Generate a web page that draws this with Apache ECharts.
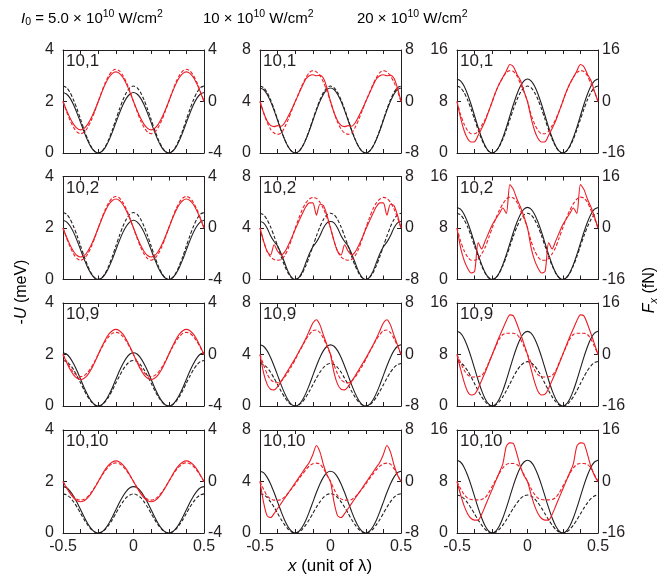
<!DOCTYPE html>
<html><head><meta charset="utf-8">
<script src="https://cdn.jsdelivr.net/npm/echarts@6/dist/echarts.min.js"></script>
<style>html,body{margin:0;padding:0;background:#fff}#c{width:671px;height:578px}</style>
</head><body><div id="c"></div>
<script>
const X = [-0.5,-0.475,-0.45,-0.425,-0.4,-0.375,-0.35,-0.325,-0.3,-0.275,-0.25,-0.225,-0.2,-0.175,-0.15,-0.125,-0.1,-0.075,-0.05,-0.025,0,0.025,0.05,0.075,0.1,0.125,0.15,0.175,0.2,0.225,0.25,0.275,0.3,0.325,0.35,0.375,0.4,0.425,0.45,0.475,0.5];
const xTickLabels = ['-0.5','0','0.5'];
const leftMax = [4, 8, 16];
const panelLabels = ['10,1','10,2','10,9','10,10'];
const titles = ['5.0', '10', '20'];

// column 1 : I0 = 5.0e10
const U5_1s = [2.35,2.29,2.13,1.87,1.54,1.18,0.81,0.48,0.22,0.06,0,0.06,0.22,0.48,0.81,1.18,1.54,1.87,2.13,2.29,2.35,2.29,2.13,1.87,1.54,1.18,0.81,0.48,0.22,0.06,0,0.06,0.22,0.48,0.81,1.18,1.54,1.87,2.13,2.29,2.35];
const U5_1d = [2.6,2.54,2.35,2.06,1.7,1.3,0.9,0.54,0.25,0.06,0,0.06,0.25,0.54,0.9,1.3,1.7,2.06,2.35,2.54,2.6,2.54,2.35,2.06,1.7,1.3,0.9,0.54,0.25,0.06,0,0.06,0.25,0.54,0.9,1.3,1.7,2.06,2.35,2.54,2.6];
const F5_1s = [0,-0.68,-1.29,-1.78,-2.09,-2.2,-2.09,-1.78,-1.29,-0.68,0,0.71,1.35,1.86,2.19,2.3,2.19,1.86,1.35,0.71,0,-0.68,-1.29,-1.78,-2.09,-2.2,-2.09,-1.78,-1.29,-0.68,0,0.71,1.35,1.86,2.19,2.3,2.19,1.86,1.35,0.71,0];
const F5_1d = [0,-0.77,-1.47,-2.02,-2.38,-2.5,-2.38,-2.02,-1.47,-0.77,0,0.77,1.47,2.02,2.38,2.5,2.38,2.02,1.47,0.77,0,-0.77,-1.47,-2.02,-2.38,-2.5,-2.38,-2.02,-1.47,-0.77,0,0.77,1.47,2.02,2.38,2.5,2.38,2.02,1.47,0.77,0];

const U5_2s = [2.3,2.24,2.08,1.83,1.51,1.15,0.79,0.47,0.22,0.06,0,0.06,0.22,0.47,0.79,1.15,1.51,1.83,2.08,2.24,2.3,2.24,2.08,1.83,1.51,1.15,0.79,0.47,0.22,0.06,0,0.06,0.22,0.47,0.79,1.15,1.51,1.83,2.08,2.24,2.3];
const U5_2d = [2.6,2.54,2.35,2.06,1.7,1.3,0.9,0.54,0.25,0.06,0,0.06,0.25,0.54,0.9,1.3,1.7,2.06,2.35,2.54,2.6,2.54,2.35,2.06,1.7,1.3,0.9,0.54,0.25,0.06,0,0.06,0.25,0.54,0.9,1.3,1.7,2.06,2.35,2.54,2.6];
const F5_2s = [0,-0.7,-1.32,-1.82,-2.14,-2.25,-2.14,-1.82,-1.32,-0.7,0,0.7,1.32,1.82,2.14,2.25,2.14,1.82,1.32,0.7,0,-0.7,-1.32,-1.82,-2.14,-2.25,-2.14,-1.82,-1.32,-0.7,0,0.7,1.32,1.82,2.14,2.25,2.14,1.82,1.32,0.7,0];
const F5_2d = [0,-0.77,-1.47,-2.02,-2.38,-2.5,-2.38,-2.02,-1.47,-0.77,0,0.76,1.44,1.98,2.33,2.45,2.33,1.98,1.44,0.76,0,-0.77,-1.47,-2.02,-2.38,-2.5,-2.38,-2.02,-1.47,-0.77,0,0.76,1.44,1.98,2.33,2.45,2.33,1.98,1.44,0.76,0];

const U5_9s = [2.07,2.02,1.87,1.64,1.36,1.04,0.71,0.43,0.2,0.05,0,0.05,0.2,0.43,0.71,1.04,1.36,1.64,1.87,2.02,2.07,2.02,1.87,1.64,1.36,1.04,0.71,0.43,0.2,0.05,0,0.05,0.2,0.43,0.71,1.04,1.36,1.64,1.87,2.02,2.07];
const U5_9d = [1.77,1.73,1.6,1.41,1.16,0.89,0.61,0.36,0.17,0.04,0,0.04,0.17,0.36,0.61,0.89,1.16,1.41,1.6,1.73,1.77,1.73,1.6,1.41,1.16,0.89,0.61,0.36,0.17,0.04,0,0.04,0.17,0.36,0.61,0.89,1.16,1.41,1.6,1.73,1.77];
const F5_9s = [0,-0.6,-1.15,-1.58,-1.85,-1.95,-1.85,-1.58,-1.15,-0.6,0,0.6,1.15,1.58,1.85,1.95,1.85,1.58,1.15,0.6,0,-0.6,-1.15,-1.58,-1.85,-1.95,-1.85,-1.58,-1.15,-0.6,0,0.6,1.15,1.58,1.85,1.95,1.85,1.58,1.15,0.6,0];
const F5_9d = [0,-0.53,-1.01,-1.39,-1.64,-1.72,-1.64,-1.39,-1.01,-0.53,0,0.53,1.01,1.39,1.64,1.72,1.64,1.39,1.01,0.53,0,-0.53,-1.01,-1.39,-1.64,-1.72,-1.64,-1.39,-1.01,-0.53,0,0.53,1.01,1.39,1.64,1.72,1.64,1.39,1.01,0.53,0];

const U5_10s = [1.8,1.76,1.63,1.43,1.18,0.9,0.62,0.37,0.17,0.04,0,0.04,0.17,0.37,0.62,0.9,1.18,1.43,1.63,1.76,1.8,1.76,1.63,1.43,1.18,0.9,0.62,0.37,0.17,0.04,0,0.04,0.17,0.37,0.62,0.9,1.18,1.43,1.63,1.76,1.8];
const U5_10d = [1.52,1.48,1.38,1.21,1.0,0.76,0.52,0.31,0.14,0.04,0,0.04,0.14,0.31,0.52,0.76,1.0,1.21,1.38,1.48,1.52,1.48,1.38,1.21,1.0,0.76,0.52,0.31,0.14,0.04,0,0.04,0.14,0.31,0.52,0.76,1.0,1.21,1.38,1.48,1.52];
const F5_10s = [0,-0.49,-0.92,-1.27,-1.49,-1.57,-1.49,-1.27,-0.92,-0.49,0,0.49,0.94,1.29,1.52,1.6,1.52,1.29,0.94,0.49,0,-0.49,-0.92,-1.27,-1.49,-1.57,-1.49,-1.27,-0.92,-0.49,0,0.49,0.94,1.29,1.52,1.6,1.52,1.29,0.94,0.49,0];
const F5_10d = [0,-0.45,-0.85,-1.17,-1.38,-1.45,-1.38,-1.17,-0.85,-0.45,0,0.45,0.85,1.17,1.38,1.45,1.38,1.17,0.85,0.45,0,-0.45,-0.85,-1.17,-1.38,-1.45,-1.38,-1.17,-0.85,-0.45,0,0.45,0.85,1.17,1.38,1.45,1.38,1.17,0.85,0.45,0];

// column 2 : 10e10
const U10_1s = [5.05,4.93,4.57,4.01,3.31,2.53,1.74,1.04,0.48,0.12,0,0.12,0.48,1.04,1.74,2.53,3.31,4.01,4.57,4.93,5.05,4.93,4.57,4.01,3.31,2.53,1.74,1.04,0.48,0.12,0,0.12,0.48,1.04,1.74,2.53,3.31,4.01,4.57,4.93,5.05];
const U10_1d = [5.2,5.08,4.71,4.13,3.41,2.6,1.79,1.07,0.49,0.12,0,0.12,0.49,1.07,1.79,2.6,3.41,4.13,4.71,5.08,5.2,5.08,4.71,4.13,3.41,2.6,1.79,1.07,0.49,0.12,0,0.12,0.49,1.07,1.79,2.6,3.41,4.13,4.71,5.08,5.2];
const F10_1s = [0,-1.7,-3.0,-3.7,-3.9,-3.75,-3.85,-3.3,-2.3,-1.2,0,1.2,2.4,3.5,4.0,4.15,4.0,4.1,3.6,2.1,0,-1.7,-3.0,-3.7,-3.9,-3.75,-3.85,-3.3,-2.3,-1.2,0,1.2,2.4,3.5,4.0,4.15,4.0,4.1,3.6,2.1,0];
const F10_1d = [0,-1.7,-3.2,-4.3,-4.9,-5.1,-4.9,-4.0,-2.8,-1.4,0,1.3,2.6,3.7,4.5,4.8,4.6,4.0,3.0,1.6,0,-1.7,-3.2,-4.3,-4.9,-5.1,-4.9,-4.0,-2.8,-1.4,0,1.3,2.6,3.7,4.5,4.8,4.6,4.0,3.0,1.6,0];

const U10_2s = [4.5,4.4,4.0,3.4,2.95,2.6,2.0,1.3,0.6,0.15,0,0.15,0.6,1.3,2.0,2.55,2.9,3.4,4.0,4.4,4.5,4.4,4.0,3.4,2.95,2.6,2.0,1.3,0.6,0.15,0,0.15,0.6,1.3,2.0,2.55,2.9,3.4,4.0,4.4,4.5];
const U10_2d = [5.15,5.03,4.66,4.09,3.37,2.58,1.78,1.06,0.49,0.12,0,0.12,0.49,1.06,1.78,2.58,3.37,4.09,4.66,5.03,5.15,5.03,4.66,4.09,3.37,2.58,1.78,1.06,0.49,0.12,0,0.12,0.49,1.06,1.78,2.58,3.37,4.09,4.66,5.03,5.15];
const F10_2s = [0,-2.0,-3.6,-4.2,-2.6,-3.6,-4.2,-3.7,-2.7,-1.5,-0.2,1.0,2.2,3.3,3.9,3.9,2.0,3.7,3.5,2.0,0,-2.0,-3.6,-4.2,-2.6,-3.6,-4.2,-3.7,-2.7,-1.5,-0.2,1.0,2.2,3.3,3.9,3.9,2.0,3.7,3.5,2.0,0];
const F10_2d = [0,-2.0,-3.6,-4.5,-4.9,-5.0,-4.9,-4.3,-3.2,-1.7,0,1.5,2.9,3.9,4.5,4.75,4.6,4.0,3.0,1.6,0,-2.0,-3.6,-4.5,-4.9,-5.0,-4.9,-4.3,-3.2,-1.7,0,1.5,2.9,3.9,4.5,4.75,4.6,4.0,3.0,1.6,0];

const U10_9s = [4.75,4.64,4.3,3.77,3.11,2.38,1.64,0.98,0.45,0.11,0,0.11,0.45,0.98,1.64,2.38,3.11,3.77,4.3,4.64,4.75,4.64,4.3,3.77,3.11,2.38,1.64,0.98,0.45,0.11,0,0.11,0.45,0.98,1.64,2.38,3.11,3.77,4.3,4.64,4.75];
const U10_9d = [3.3,3.22,2.99,2.62,2.16,1.65,1.14,0.68,0.31,0.08,0,0.08,0.31,0.68,1.14,1.65,2.16,2.62,2.99,3.22,3.3,3.22,2.99,2.62,2.16,1.65,1.14,0.68,0.31,0.08,0,0.08,0.31,0.68,1.14,1.65,2.16,2.62,2.99,3.22,3.3];
const F10_9s = [0,-2.8,-4.6,-5.4,-5.5,-5.0,-4.2,-3.3,-2.4,-1.5,-0.6,0.4,1.4,2.5,3.7,4.9,5.4,4.6,3.0,1.5,0,-2.8,-4.6,-5.4,-5.5,-5.0,-4.2,-3.3,-2.4,-1.5,-0.6,0.4,1.4,2.5,3.7,4.9,5.4,4.6,3.0,1.5,0];
const F10_9d = [0,-1.6,-3.0,-3.9,-4.3,-4.4,-4.1,-3.5,-2.7,-1.8,-0.8,0.3,1.3,2.3,3.1,3.7,3.8,3.4,2.5,1.3,0,-1.6,-3.0,-3.9,-4.3,-4.4,-4.1,-3.5,-2.7,-1.8,-0.8,0.3,1.3,2.3,3.1,3.7,3.8,3.4,2.5,1.3,0];

const U10_10s = [4.8,4.69,4.34,3.81,3.14,2.4,1.66,0.99,0.46,0.12,0,0.12,0.46,0.99,1.66,2.4,3.14,3.81,4.34,4.69,4.8,4.69,4.34,3.81,3.14,2.4,1.66,0.99,0.46,0.12,0,0.12,0.46,0.99,1.66,2.4,3.14,3.81,4.34,4.69,4.8];
const U10_10d = [3.05,2.98,2.76,2.42,2.0,1.53,1.05,0.63,0.29,0.07,0,0.07,0.29,0.63,1.05,1.53,2.0,2.42,2.76,2.98,3.05,2.98,2.76,2.42,2.0,1.53,1.05,0.63,0.29,0.07,0,0.07,0.29,0.63,1.05,1.53,2.0,2.42,2.76,2.98,3.05];
const F10_10s = [0,-3.2,-5.3,-5.6,-5.0,-4.2,-3.4,-2.6,-1.8,-1.0,-0.2,0.6,1.4,2.2,3.0,4.2,5.6,4.6,2.6,1.0,0,-3.2,-5.3,-5.6,-5.0,-4.2,-3.4,-2.6,-1.8,-1.0,-0.2,0.6,1.4,2.2,3.0,4.2,5.6,4.6,2.6,1.0,0];
const F10_10d = [0,-1.2,-2.2,-2.7,-2.9,-2.9,-2.8,-2.4,-1.8,-1.1,-0.4,0.4,1.1,1.8,2.4,2.75,2.85,2.7,2.0,1.0,0,-1.2,-2.2,-2.7,-2.9,-2.9,-2.8,-2.4,-1.8,-1.1,-0.4,0.4,1.1,1.8,2.4,2.75,2.85,2.7,2.0,1.0,0];

// column 3 : 20e10
const U20_1s = [11.5,11.22,10.41,9.13,7.53,5.75,3.97,2.37,1.09,0.28,0,0.28,1.09,2.37,3.97,5.75,7.53,9.13,10.41,11.22,11.5,11.22,10.41,9.13,7.53,5.75,3.97,2.37,1.09,0.28,0,0.28,1.09,2.37,3.97,5.75,7.53,9.13,10.41,11.22,11.5];
const U20_1d = [10.4,10.15,9.41,8.26,6.81,5.2,3.59,2.14,0.99,0.25,0,0.25,0.99,2.14,3.59,5.2,6.81,8.26,9.41,10.15,10.4,10.15,9.41,8.26,6.81,5.2,3.59,2.14,0.99,0.25,0,0.25,0.99,2.14,3.59,5.2,6.81,8.26,9.41,10.15,10.4];
const F20_1s = [0,-5,-9,-11.5,-12.6,-12.5,-10.5,-8.4,-6,-3,0,3,5.5,7.5,9.5,11.5,10.8,8.5,6.5,3.2,0,-5,-9,-11.5,-12.6,-12.5,-10.5,-8.4,-6,-3,0,3,5.5,7.5,9.5,11.5,10.8,8.5,6.5,3.2,0];
const F20_1d = [0,-4,-7,-9,-10,-10,-9.2,-7.5,-5.5,-3,0,3,5.5,7.5,9,9.6,9.3,8,5.5,3,0,-4,-7,-9,-10,-10,-9.2,-7.5,-5.5,-3,0,3,5.5,7.5,9,9.6,9.3,8,5.5,3,0];

const U20_2s = [11.2,10.93,10.14,8.89,7.34,5.6,3.86,2.31,1.06,0.27,0,0.27,1.06,2.31,3.86,5.6,7.34,8.89,10.14,10.93,11.2,10.93,10.14,8.89,7.34,5.6,3.86,2.31,1.06,0.27,0,0.27,1.06,2.31,3.86,5.6,7.34,8.89,10.14,10.93,11.2];
const U20_2d = [10.3,10.05,9.32,8.18,6.75,5.15,3.55,2.12,0.98,0.25,0,0.25,0.98,2.12,3.55,5.15,6.75,8.18,9.32,10.05,10.3,10.05,9.32,8.18,6.75,5.15,3.55,2.12,0.98,0.25,0,0.25,0.98,2.12,3.55,5.15,6.75,8.18,9.32,10.05,10.3];
const F20_2s = [0,-6,-10,-12.5,-14,-13.5,-4.5,-6.5,-4,-1.5,1,2.8,4.5,6.2,4.5,13.5,12,9,6.5,3.5,0,-6,-10,-12.5,-14,-13.5,-4.5,-6.5,-4,-1.5,1,2.8,4.5,6.2,4.5,13.5,12,9,6.5,3.5,0];
const F20_2d = [0,-4,-7,-9,-10,-10,-9.5,-8,-6,-3,0,3,5.5,7.5,9,9.6,9.3,8,5.5,3,0,-4,-7,-9,-10,-10,-9.5,-8,-6,-3,0,3,5.5,7.5,9,9.6,9.3,8,5.5,3,0];

const U20_9s = [11.6,11.32,10.5,9.21,7.6,5.8,4.0,2.39,1.1,0.28,0,0.28,1.1,2.39,4.0,5.8,7.6,9.21,10.5,11.32,11.6,11.32,10.5,9.21,7.6,5.8,4.0,2.39,1.1,0.28,0,0.28,1.1,2.39,4.0,5.8,7.6,9.21,10.5,11.32,11.6];
const U20_9d = [6.9,6.73,6.24,5.48,4.52,3.45,2.38,1.42,0.66,0.17,0,0.17,0.66,1.42,2.38,3.45,4.52,5.48,6.24,6.73,6.9,6.73,6.24,5.48,4.52,3.45,2.38,1.42,0.66,0.17,0,0.17,0.66,1.42,2.38,3.45,4.52,5.48,6.24,6.73,6.9];
const F20_9s = [0,-4.5,-8.5,-11.5,-12.6,-12.3,-10.5,-8,-5.5,-2.8,0,2.8,5.5,8,10.5,12.3,12,9.5,6.5,3.3,0,-4.5,-8.5,-11.5,-12.6,-12.3,-10.5,-8,-5.5,-2.8,0,2.8,5.5,8,10.5,12.3,12,9.5,6.5,3.3,0];
const F20_9d = [0,-2.5,-4.8,-6.3,-6.9,-7.0,-6.9,-6.5,-5,-2.5,0,2.5,4.8,6.2,6.6,6.6,6.6,6.2,4.8,2.5,0,-2.5,-4.8,-6.3,-6.9,-7.0,-6.9,-6.5,-5,-2.5,0,2.5,4.8,6.2,6.6,6.6,6.6,6.2,4.8,2.5,0];

const U20_10s = [11.3,11.03,10.23,8.97,7.4,5.65,3.9,2.33,1.07,0.27,0,0.27,1.07,2.33,3.9,5.65,7.4,8.97,10.23,11.03,11.3,11.03,10.23,8.97,7.4,5.65,3.9,2.33,1.07,0.27,0,0.27,1.07,2.33,3.9,5.65,7.4,8.97,10.23,11.03,11.3];
const U20_10d = [5.9,5.76,5.34,4.68,3.86,2.95,2.04,1.22,0.56,0.14,0,0.14,0.56,1.22,2.04,2.95,3.86,4.68,5.34,5.76,5.9,5.76,5.34,4.68,3.86,2.95,2.04,1.22,0.56,0.14,0,0.14,0.56,1.22,2.04,2.95,3.86,4.68,5.34,5.76,5.9];
const F20_10s = [0,-4,-7.5,-10,-11.5,-12,-12,-10.2,-7.6,-5,-2.4,0.2,2.8,5.5,11,12,11.8,8.5,4.6,1.8,0,-4,-7.5,-10,-11.5,-12,-12,-10.2,-7.6,-5,-2.4,0.2,2.8,5.5,11,12,11.8,8.5,4.6,1.8,0];
const F20_10d = [0,-2.2,-4,-5.2,-5.6,-5.7,-5.7,-5.6,-5.0,-3.5,-1.5,0.5,2.5,4.2,5.3,5.6,5.6,5.3,4.2,2.2,0,-2.2,-4,-5.2,-5.6,-5.7,-5.7,-5.6,-5.0,-3.5,-1.5,0.5,2.5,4.2,5.3,5.6,5.6,5.3,4.2,2.2,0];

const panels = [
  [[U5_1s,U5_1d,F5_1s,F5_1d],[U5_2s,U5_2d,F5_2s,F5_2d],[U5_9s,U5_9d,F5_9s,F5_9d],[U5_10s,U5_10d,F5_10s,F5_10d]],
  [[U10_1s,U10_1d,F10_1s,F10_1d],[U10_2s,U10_2d,F10_2s,F10_2d],[U10_9s,U10_9d,F10_9s,F10_9d],[U10_10s,U10_10d,F10_10s,F10_10d]],
  [[U20_1s,U20_1d,F20_1s,F20_1d],[U20_2s,U20_2d,F20_2s,F20_2d],[U20_9s,U20_9d,F20_9s,F20_9d],[U20_10s,U20_10d,F20_10s,F20_10d]]
];

const INK = '#231f20', RED = '#ed1c24';
const FONT = '"Liberation Sans", Arial, sans-serif';
const colLeft = [63, 260, 457], colW = 141;
const rowTop = [50, 176.5, 303, 430], rowH = 103;

const grid = [], xAxis = [], yAxis = [], series = [], graphic = [];
const axLine = {show: true, onZero: false, lineStyle: {color: INK, width: 1}};
const tick = {inside: true, length: 4, lineStyle: {color: INK}};
for (let r = 0; r < 4; r++) {
  for (let c = 0; c < 3; c++) {
    const gi = r * 3 + c;
    grid.push({left: colLeft[c], top: rowTop[r], width: colW, height: rowH});
    const M = leftMax[c];
    xAxis.push({gridIndex: gi, type: 'value', min: -0.5, max: 0.5, interval: 0.125, position: 'bottom',
      axisLine: axLine, axisTick: tick, splitLine: {show: false},
      axisLabel: {show: r === 3, margin: 6, fontSize: 16, color: INK, fontFamily: FONT,
        formatter: v => (Math.abs(v + 0.5) < 1e-9 ? xTickLabels[0] : Math.abs(v) < 1e-9 ? xTickLabels[1] : Math.abs(v - 0.5) < 1e-9 ? xTickLabels[2] : '')}});
    xAxis.push({gridIndex: gi, type: 'value', min: -0.5, max: 0.5, interval: 0.125, position: 'top',
      axisLine: axLine, axisTick: tick, splitLine: {show: false}, axisLabel: {show: false}});
    yAxis.push({gridIndex: gi, type: 'value', min: 0, max: M, interval: M / 2, position: 'left',
      axisLine: axLine, axisTick: tick, splitLine: {show: false},
      axisLabel: {margin: 9, fontSize: 16, color: INK, fontFamily: FONT}});
    yAxis.push({gridIndex: gi, type: 'value', min: -M, max: M, interval: M, position: 'right',
      axisLine: axLine, axisTick: tick, splitLine: {show: false},
      axisLabel: {margin: 4, fontSize: 16, color: INK, fontFamily: FONT}});
    const d = panels[c][r];
    const mk = (arr, color, dashed, yi) => ({type: 'line', xAxisIndex: 2 * gi, yAxisIndex: 2 * gi + yi,
      data: X.map((x, i) => [x, arr[i]]), showSymbol: false, smooth: 0.25, silent: true, animation: false,
      lineStyle: {color, width: 1.1, type: dashed ? [3.5, 2] : 'solid'}});
    series.push(mk(d[0], INK, false, 0), mk(d[1], INK, true, 0), mk(d[2], RED, false, 1), mk(d[3], RED, true, 1));
    graphic.push({type: 'text', left: colLeft[c] + 3, top: rowTop[r] + 3, style: {text: panelLabels[r], fontSize: 17, fill: INK, fontFamily: FONT}});
  }
}

const rich = {
  n: {fontSize: 15, fontFamily: FONT, color: INK},
  i: {fontSize: 15, fontFamily: FONT, fontStyle: 'italic', color: INK},
  sub: {fontSize: 10.5, fontFamily: FONT, color: INK, padding: [8, 0, 0, 0]},
  sup: {fontSize: 10.5, fontFamily: FONT, color: INK, padding: [0, 0, 8, 0]}
};
const rich2 = {
  n: {fontSize: 16, fontFamily: FONT, color: INK},
  i: {fontSize: 16, fontFamily: FONT, fontStyle: 'italic', color: INK},
  sub: {fontSize: 11, fontFamily: FONT, fontStyle: 'italic', color: INK, padding: [8, 0, 0, 0]}
};
const rich3 = {
  n: {fontSize: 17, fontFamily: FONT, color: INK},
  i: {fontSize: 17, fontFamily: FONT, fontStyle: 'italic', color: INK}
};
graphic.push({type: 'text', left: 21, top: 9, style: {text: '{i|I}{sub|0}{n| = ' + titles[0] + ' × 10}{sup|10}{n| W/cm}{sup|2}', rich}});
graphic.push({type: 'text', left: 203, top: 9, style: {text: '{n|' + titles[1] + ' × 10}{sup|10}{n| W/cm}{sup|2}', rich}});
graphic.push({type: 'text', left: 357, top: 9, style: {text: '{n|' + titles[2] + ' × 10}{sup|10}{n| W/cm}{sup|2}', rich}});
graphic.push({type: 'text', x: 22, y: 292, rotation: Math.PI / 2, style: {text: '{n|-}{i|U}{n| (meV)}', rich: rich2, align: 'center', verticalAlign: 'middle'}});
graphic.push({type: 'text', x: 650, y: 290, rotation: Math.PI / 2, style: {text: '{i|F}{sub|x}{n| (fN)}', rich: rich2, align: 'center', verticalAlign: 'middle'}});
graphic.push({type: 'text', x: 330, y: 566, style: {text: '{i|x}{n| (unit of λ)}', rich: rich3, align: 'center', verticalAlign: 'middle'}});

const chart = echarts.init(document.getElementById('c'), null, {renderer: 'canvas'});
chart.setOption({animation: false, grid, xAxis, yAxis, series, graphic});
</script></body></html>
